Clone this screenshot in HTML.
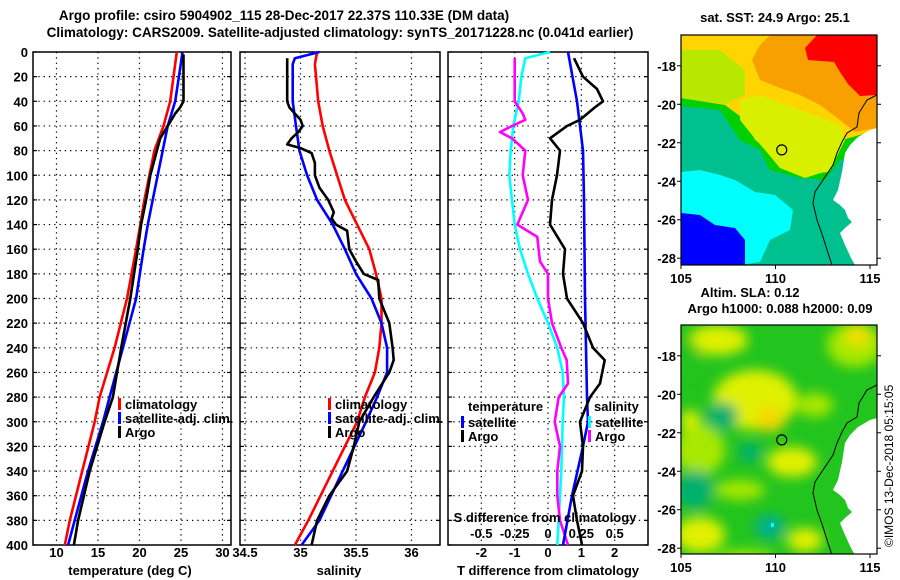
<!DOCTYPE html>
<html><head><meta charset="utf-8">
<style>
html,body{margin:0;padding:0;background:#fff;}
svg{display:block;font-family:"Liberation Sans",Arial,sans-serif;font-weight:bold;}
</style></head>
<body>
<svg id="fig" width="900" height="580" viewBox="0 0 900 580" xmlns="http://www.w3.org/2000/svg">
<defs>
<clipPath id="clipTop"><rect x="681" y="35" width="196" height="230"/></clipPath>
<clipPath id="clipBot"><rect x="681" y="325" width="196" height="229"/></clipPath>
<filter id="blur" x="-20%" y="-20%" width="140%" height="140%"><feGaussianBlur stdDeviation="6"/></filter>
</defs>
<text x="284" y="20" font-size="13.5" text-anchor="middle">Argo profile: csiro 5904902_115 28-Dec-2017 22.37S 110.33E (DM data)</text>
<text x="340" y="37" font-size="13.5" text-anchor="middle">Climatology: CARS2009. Satellite-adjusted climatology: synTS_20171228.nc (0.041d earlier)</text>
<g id="panels"></g>
<g id="maps"></g>
<text transform="translate(893,547) rotate(-90)" font-size="12" font-weight="normal">©IMOS 13-Dec-2018 05:15:05</text>
</svg>
<script>
// ---------- data ----------
const depthTicks=[0,20,40,60,80,100,120,140,160,180,200,220,240,260,280,300,320,340,360,380,400];
const tempTicks=[10,15,20,25,30];
const salTicks=[34.5,35,35.5,36];
const salTickLabels=["34.5","35","35.5","36"];
const tdiffTicks=[-2,-1,0,1,2];
const sdiffTicks=[-0.5,-0.25,0,0.25,0.5];
const sdiffTickLabels=["-0.5","-0.25","0","0.25","0.5"];

const tClimD=[0,40,60,80,100,120,140,160,200,240,280,300,340,380,400];
const tClimV=[24.5,23.7,22.9,21.8,21.2,20.6,20.1,19.6,18.5,17.0,15.2,14.6,13.1,11.6,11.0];
const tSatD=[0,40,60,80,100,120,140,160,200,240,280,300,340,380,400];
const tSatV=[25.2,24.3,23.4,22.8,22.2,21.6,21.0,20.5,19.6,18.0,16.4,15.6,13.8,12.2,11.4];
const tArgoD=[2,40,45,50,60,70,80,100,120,140,160,200,240,280,300,340,380,400];
const tArgoV=[25.3,25.3,24.9,24.3,23.4,22.5,22.1,21.3,20.8,20.2,19.8,18.9,17.8,16.8,15.8,14.0,12.6,12.1];

const sClimD=[0,10,40,60,80,100,120,140,160,180,200,220,240,260,280,300,340,380,400];
const sClimV=[35.15,35.13,35.16,35.20,35.26,35.33,35.40,35.51,35.62,35.68,35.73,35.73,35.71,35.67,35.58,35.51,35.29,35.07,34.95];
const sSatD=[0,5,10,40,60,80,100,120,140,160,180,200,220,240,260,280,300,340,380,400];
const sSatV=[35.17,34.95,34.93,34.93,34.96,34.99,35.06,35.15,35.29,35.40,35.50,35.64,35.73,35.78,35.78,35.69,35.59,35.38,35.17,35.01];
const sArgoD=[5,40,45,50,55,60,65,70,75,78,82,90,100,110,120,130,135,140,145,160,170,180,185,200,220,240,250,260,280,300,320,340,360,380,400];
const sArgoV=[34.88,34.88,34.90,34.95,35.00,35.02,34.98,34.92,34.88,35.00,35.10,35.13,35.13,35.17,35.25,35.30,35.28,35.32,35.42,35.44,35.50,35.57,35.70,35.71,35.80,35.83,35.84,35.80,35.66,35.53,35.48,35.42,35.26,35.15,35.10];

const dTSatD=[0,40,80,120,200,280,300,320,360,400];
const dTSatV=[0.6,0.87,1.05,1.08,1.11,1.17,1.2,1.05,0.72,0.45];
const dTArgoD=[5,20,30,40,45,55,60,70,80,100,120,140,160,180,200,220,240,250,269,280,300,320,340,360,380,400];
const dTArgoV=[0.78,1.05,1.47,1.65,1.4,0.96,0.57,0.06,0.36,0.27,0.12,0.06,0.51,0.45,0.57,1.05,1.35,1.7,1.56,1.26,0.96,1.05,1.02,0.75,0.87,1.02];
const dSArgoD=[5,40,50,55,60,65,70,80,100,120,140,150,170,180,200,220,240,250,269,280,300,320,340,360,380,400];
const dSArgoV=[-0.25,-0.25,-0.19,-0.17,-0.27,-0.36,-0.27,-0.17,-0.19,-0.15,-0.23,-0.08,-0.06,0,0,0.03,0.1,0.14,0.15,0.08,0.05,0.09,0.07,0.07,0.09,0.15];
const dSSatD=[0,5,20,40,60,80,100,120,140,160,180,200,220,240,260,280,300,340,380,400];
const dSSatV=[0.015,-0.17,-0.2,-0.22,-0.26,-0.28,-0.29,-0.27,-0.25,-0.21,-0.15,-0.08,0,0.07,0.11,0.12,0.11,0.1,0.08,0.07];

const lonTicks=[105,110,115];
const latTicks=[-18,-20,-22,-24,-26,-28];
const argoLon=110.33, argoLat=-22.37;

// ---------- helpers ----------
const NS="http://www.w3.org/2000/svg";
function mk(tag,attrs,parent){const e=document.createElementNS(NS,tag);for(const k in attrs)e.setAttribute(k,attrs[k]);parent.appendChild(e);return e;}
const yTop=52,yBot=545,dMax=400;
function yD(d){return yTop+(yBot-yTop)*d/dMax;}
const panelsG=document.getElementById('panels');

function makePanel(name,x0,x1,vmin,vmax,ticks){
  const g=mk('g',{},panelsG);
  
  
  const xf=v=>x0+(x1-x0)*(v-vmin)/(vmax-vmin);
  ticks.forEach(t=>{const x=xf(t);mk('line',{x1:x,x2:x,y1:yTop,y2:yBot,stroke:'#000','stroke-width':1.2,'stroke-dasharray':'1.3,4'},g);});
  depthTicks.forEach(d=>{const y=yD(d);
    if(d>0&&d<dMax) mk('line',{x1:x0,x2:x1,y1:y,y2:y,stroke:'#000','stroke-width':1.2,'stroke-dasharray':'1.3,4'},g);
    mk('line',{x1:x0,x2:x0+4,y1:y,y2:y,stroke:'#000','stroke-width':1.2},g);
    mk('line',{x1:x1-4,x2:x1,y1:y,y2:y,stroke:'#000','stroke-width':1.2},g);
  });
  mk('rect',{x:x0,y:yTop,width:x1-x0,height:yBot-yTop,fill:'none',stroke:'#000','stroke-width':1.5},g);
  return {g,xf};
}
function drawLine(p,D,V,color,name,xf){
  const f=xf||p.xf;
  const pts=D.map((d,i)=>f(V[i]).toFixed(1)+','+yD(d).toFixed(1)).join(' ');
  const l=mk('polyline',{points:pts,fill:'none',stroke:color,'stroke-width':2.6,'stroke-linejoin':'round'},p.g);
  
  
}
function txt(x,y,s,opts,parent,name){
  const t=mk('text',Object.assign({x:x,y:y,'font-size':13},opts||{}),parent);t.textContent=s;
  
  
  return t;
}
function legendEntry(g,x,y,color,label,name){
  mk('rect',{x:x,y:y-9,width:3,height:12,fill:color},g);
  txt(x+7,y+2,label,{},g,name);
}

// depth labels
const dl=mk('g',{},panelsG);


depthTicks.forEach(d=>{txt(28,yD(d)+5,String(d),{'text-anchor':'end'},dl,'depth-tick-label');});

// panel 1: temperature
const p1=makePanel('temperature-panel',33,231,7.17,31.03,tempTicks);
drawLine(p1,tClimD,tClimV,'#ff0000','temp-climatology-line');
drawLine(p1,tSatD,tSatV,'#0000ff','temp-satellite-line');
drawLine(p1,tArgoD,tArgoV,'#000000','temp-argo-line');
tempTicks.forEach(t=>txt(p1.xf(t),557,String(t),{'text-anchor':'middle'},p1.g,'temp-tick-label'));
txt(130,575,'temperature (deg C)',{'text-anchor':'middle'},p1.g,'temp-axis-title');
legendEntry(p1.g,118,407,'#ff0000','climatology','legend-climatology');
legendEntry(p1.g,118,421,'#0000ff','satellite-adj. clim.','legend-satellite');
legendEntry(p1.g,118,435,'#000000','Argo','legend-argo');

// panel 2: salinity
const p2=makePanel('salinity-panel',240,440,34.455,36.257,salTicks);
drawLine(p2,sClimD,sClimV,'#ff0000','sal-climatology-line');
drawLine(p2,sSatD,sSatV,'#0000ff','sal-satellite-line');
drawLine(p2,sArgoD,sArgoV,'#000000','sal-argo-line');
salTicks.forEach((t,i)=>txt(p2.xf(t),557,salTickLabels[i],{'text-anchor':'middle'},p2.g,'sal-tick-label'));
txt(339,575,'salinity',{'text-anchor':'middle'},p2.g,'sal-axis-title');
legendEntry(p2.g,328,407,'#ff0000','climatology','legend-climatology');
legendEntry(p2.g,328,421,'#0000ff','satellite-adj. clim.','legend-satellite');
legendEntry(p2.g,328,435,'#000000','Argo','legend-argo');

// panel 3: differences
const p3=makePanel('difference-panel',448,648,-3.0,3.0,tdiffTicks);
const sxf=v=>p3.xf(v*4);
drawLine(p3,dSSatD,dSSatV,'#00ffff','sdiff-satellite-line',sxf);
drawLine(p3,dSArgoD,dSArgoV,'#ff00ff','sdiff-argo-line',sxf);
drawLine(p3,dTSatD,dTSatV,'#0000ff','tdiff-satellite-line');
drawLine(p3,dTArgoD,dTArgoV,'#000000','tdiff-argo-line');
tdiffTicks.forEach(t=>txt(p3.xf(t),557,String(t),{'text-anchor':'middle'},p3.g,'tdiff-tick-label'));
sdiffTicks.forEach((t,i)=>txt(sxf(t),538,sdiffTickLabels[i],{'text-anchor':'middle'},p3.g,'sdiff-tick-label'));
txt(545,522,'S difference from climatology',{'text-anchor':'middle'},p3.g,'sdiff-axis-title');
txt(548,575,'T difference from climatology',{'text-anchor':'middle'},p3.g,'tdiff-axis-title');
txt(468,411,'temperature',{},p3.g,'legend-temperature-header');
legendEntry(p3.g,461,425,'#0000ff','satellite','legend-t-satellite');
legendEntry(p3.g,461,439,'#000000','Argo','legend-t-argo');
txt(594,411,'salinity',{},p3.g,'legend-salinity-header');
legendEntry(p3.g,588,425,'#00ffff','satellite','legend-s-satellite');
legendEntry(p3.g,588,439,'#ff00ff','Argo','legend-s-argo');

// ---------- maps ----------
const mapsG=document.getElementById('maps');
const mx0=681,mx1=877;
function lonX(l){return 681+(l-105)*18.9;}
function latY(l,top){return top+(-16.4-l)*(229/11.9);}
const coast=[[877,95],[867,100],[859,113],[857,127],[847,133],[842,142],[837,153],[833,165],[823,180],[815,192],[813,203],[817,220],[823,237],[828,253],[832,265]];
const land=[[877,128],[870,130],[858,137],[850,145],[845,153],[842,172],[838,190],[833,200],[840,205],[845,210],[848,218],[852,222],[845,228],[840,233],[845,245],[851,258],[855,265],[877,265]];
function poly(pts,dy){return pts.map(p=>p[0]+','+(p[1]+dy)).join(' ');}

function mapFrame(g,top,bot,title1,title2){
  mk('rect',{x:mx0,y:top,width:mx1-mx0,height:bot-top,fill:'none',stroke:'#000','stroke-width':1.2},g);
  lonTicks.forEach(l=>{const x=lonX(l);mk('line',{x1:x,x2:x,y1:bot,y2:bot+4,stroke:'#000'},g);
    txt(x,bot+18,String(l),{'text-anchor':'middle'},g,'lon-tick-label');});
  latTicks.forEach(l=>{const y=latY(l,top);mk('line',{x1:mx0-4,x2:mx0,y1:y,y2:y,stroke:'#000'},g);
    mk('line',{x1:mx1,x2:mx1+4,y1:y,y2:y,stroke:'#000'},g);
    txt(676,y+5,String(l),{'text-anchor':'end'},g,'lat-tick-label');});
}

// SST map
const sst=mk('g',{},mapsG);


const sc=mk('g',{'clip-path':'url(#clipTop)'},sst);
mk('rect',{x:681,y:35,width:196,height:230,fill:'#00c090'},sc);
mk('polygon',{points:'681,35 877,35 877,150 840,160 825,180 800,178 770,170 760,150 740,140 720,110 681,106',fill:'#00d000'},sc);
mk('polygon',{points:'681,35 877,35 877,130 842,140 828,172 800,175 780,168 770,150 755,140 745,120 725,105 681,98',fill:'#ffd400'},sc);
mk('polygon',{points:'681,50 720,50 745,70 745,95 725,104 681,98',fill:'#b8e800'},sc);
mk('polygon',{points:'740,100 760,95 800,110 840,125 845,140 830,170 805,178 780,168 765,150 752,135 740,120',fill:'#d8f000'},sc);
mk('polygon',{points:'770,35 877,35 877,128 855,132 840,120 820,105 800,95 780,88 760,80 752,60 760,45',fill:'#f8a000'},sc);
mk('polygon',{points:'817,35 877,35 877,95 860,96 848,84 840,72 834,62 808,60 805,48',fill:'#ff0000'},sc);
mk('polygon',{points:'681,172 700,170 720,175 735,180 755,192 775,195 793,210 790,230 770,240 760,262 740,265 681,265',fill:'#00ffff'},sc);
mk('polygon',{points:'681,213 700,215 715,225 735,228 745,240 745,265 681,265',fill:'#0000ff'},sc);
mk('polygon',{points:land.map(p=>p.join(',')).join(' '),fill:'#fff'},sc);
mk('polyline',{points:coast.map(p=>p.join(',')).join(' '),fill:'none',stroke:'#000','stroke-width':1},sc);
mapFrame(sst,35,265);
txt(775,22,'sat. SST: 24.9 Argo: 25.1',{'text-anchor':'middle'},sst,'sst-map-title');
const c1=mk('circle',{cx:lonX(argoLon),cy:latY(argoLat,35),r:5,fill:'none',stroke:'#000','stroke-width':1.2},sst);



// SLA map
const sla=mk('g',{},mapsG);


const sl=mk('g',{'clip-path':'url(#clipBot)'},sla);
mk('rect',{x:681,y:325,width:196,height:229,fill:'#22c41e'},sl);
const bl=mk('g',{filter:'url(#blur)'},sl);
[[718,340,30,15,'#e0f000'],[855,345,28,22,'#a8e800'],[858,335,12,12,'#f0e000'],
 [755,400,42,30,'#e0f000'],[770,420,15,12,'#f4d800'],[815,405,18,12,'#a8e800'],
 [722,416,16,14,'#00b070'],[750,452,12,10,'#00b070'],[700,450,25,25,'#a8e800'],
 [792,462,25,15,'#e0f000'],[695,490,18,20,'#00b070'],[740,490,25,10,'#a8e800'],
 [700,535,25,18,'#e0f000'],[770,527,15,12,'#00b090'],[805,540,18,12,'#e0f000'],
 [745,560,30,10,'#a8e800'],[690,420,10,10,'#e0f000'],[690,360,10,20,'#22c41e']
].forEach(b=>mk('ellipse',{cx:b[0],cy:b[1],rx:b[2],ry:b[3],fill:b[4]},bl));
mk('rect',{x:771,y:523,width:3,height:4,fill:'#00ffff'},sl);
mk('polygon',{points:poly(land,290),fill:'#fff'},sl);
mk('polyline',{points:poly(coast,290),fill:'none',stroke:'#000','stroke-width':1},sl);
mapFrame(sla,325,554);
txt(750,297,'Altim. SLA: 0.12',{'text-anchor':'middle'},sla,'sla-map-title');
txt(780,313,'Argo h1000: 0.088 h2000: 0.09',{'text-anchor':'middle'},sla,'sla-map-subtitle');
const c2=mk('circle',{cx:lonX(argoLon),cy:latY(argoLat,325),r:5,fill:'none',stroke:'#000','stroke-width':1.2},sla);


</script>
</body></html>
